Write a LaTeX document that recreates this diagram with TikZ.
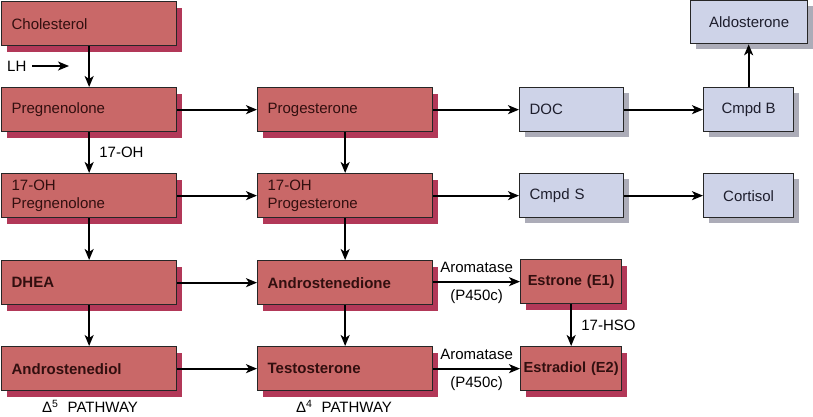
\documentclass[tikz,border=0pt]{standalone}
\usepackage{fontspec}
\setmainfont{Liberation Sans}
\usetikzlibrary{shadows,arrows.meta}
\definecolor{redfill}{RGB}{201,104,104}
\definecolor{redshadow}{RGB}{178,56,88}
\definecolor{bluefill}{RGB}{206,211,232}
\definecolor{blueshadow}{RGB}{172,172,184}
\definecolor{redtext}{RGB}{50,15,15}
\definecolor{bluetext}{RGB}{30,30,45}
\begin{document}
\begin{tikzpicture}[x=1pt,y=-1pt,
  font=\fontsize{15}{18}\selectfont,
  bfont/.style={font=\fontsize{15}{18}\selectfont\bfseries},
  basebox/.style={draw=black!85, line width=1.3pt, anchor=north west, minimum height=44pt, inner xsep=10pt, inner ysep=2pt},
  redbox/.style={basebox, fill=redfill, text=redtext, align=left,
     drop shadow={shadow xshift=5pt, shadow yshift=-6pt, fill=redshadow, opacity=1, draw=none}},
  bluebox/.style={basebox, fill=bluefill, text=bluetext,
     drop shadow={shadow xshift=5pt, shadow yshift=-5pt, fill=blueshadow, opacity=1, draw=none}},
  wide/.style={text width=155pt, minimum width=175pt},
  narrow/.style={text width=97pt, minimum width=101pt, inner xsep=2pt, align=center, font=\fontsize{14.6}{18}\selectfont\bfseries},
  conn/.style={line width=1.8pt, -{Stealth[length=11pt,width=9pt,inset=3pt]}},
  lbl/.style={text=black}
]
\useasboundingbox (0,0) rectangle (813,416);

% column 1
\node[redbox, wide] (chol) at (1,1) {Cholesterol};
\node[redbox, wide] (preg) at (1,87) {Pregnenolone};
\node[redbox, wide] (ohpreg) at (1,173) {17-OH\\Pregnenolone};
\node[redbox, wide, bfont] (dhea) at (1,260) {DHEA};
\node[redbox, wide, bfont] (adiol) at (1,346) {Androstenediol};

% column 2
\node[redbox, wide] (prog) at (257,87) {Progesterone};
\node[redbox, wide] (ohprog) at (257,173) {17-OH\\Progesterone};
\node[redbox, wide, bfont] (adione) at (257,260) {Androstenedione};
\node[redbox, wide, bfont] (testo) at (257,346) {Testosterone};

% column 3
\node[bluebox, text width=84pt, minimum width=104pt, align=left] (doc) at (519,87) {DOC};
\node[bluebox, text width=84pt, minimum width=104pt, align=left] (cmpds) at (519,173) {Cmpd S};
\node[redbox, narrow] (estrone) at (520,259) {\mbox{Estrone (E1)}};
\node[redbox, narrow] (estradiol) at (520,346) {\mbox{Estradiol (E2)}};

% column 4
\node[bluebox, minimum width=90pt, align=center] (cmpdb) at (703,87) {Cmpd B};
\node[bluebox, minimum width=90pt, align=center] (cortisol) at (703,173) {Cortisol};
\node[bluebox, minimum width=117pt, minimum height=43pt, align=center] (aldo) at (690,0) {Aldosterone};

% LH
\node[lbl, anchor=west, inner sep=0pt] (lh) at (7,66) {LH};
\coordinate (lhs) at (32,66);
\coordinate (lhe) at (69,66);
\draw[conn] (lhs) -- (lhe);

% connectors
\draw[conn] (chol) -- (preg);
\draw[conn] (preg) -- node[lbl, right=6pt] {17-OH} (ohpreg);
\draw[conn] (ohpreg) -- (dhea);
\draw[conn] (dhea) -- (adiol);
\draw[conn] (prog) -- (ohprog);
\draw[conn] (ohprog) -- (adione);
\draw[conn] (adione) -- (testo);
\draw[conn] (preg) -- (prog);
\draw[conn] (ohpreg.east |- ohprog.west) -- (ohprog);
\draw[conn] (dhea) -- (adione);
\draw[conn] (adiol) -- (testo);
\draw[conn] (prog) -- (doc);
\draw[conn] (doc) -- (cmpdb);
\draw[conn] (cmpdb) -- (aldo.south -| cmpdb.north);
\draw[conn] (ohprog) -- (cmpds);
\draw[conn] (cmpds) -- (cortisol);
\draw[conn] (adione.east |- estrone.west) -- node[lbl, above=5pt] {Aromatase} node[lbl, below=4pt] {(P450c)} (estrone);
\draw[conn] (testo.east |- estradiol.west) -- node[lbl, above=5pt] {Aromatase} node[lbl, below=4pt] {(P450c)} (estradiol);
\draw[conn] (estrone.south) -- node[lbl, right=6pt] {17-HSO} (estrone.south |- estradiol.north);

% pathway labels
\node[lbl] (d5) at (90,406) {Δ\textsuperscript{5}\,\, PATHWAY};
\node[lbl] (d4) at (344,406) {Δ\textsuperscript{4}\,\, PATHWAY};
\end{tikzpicture}
\end{document}
